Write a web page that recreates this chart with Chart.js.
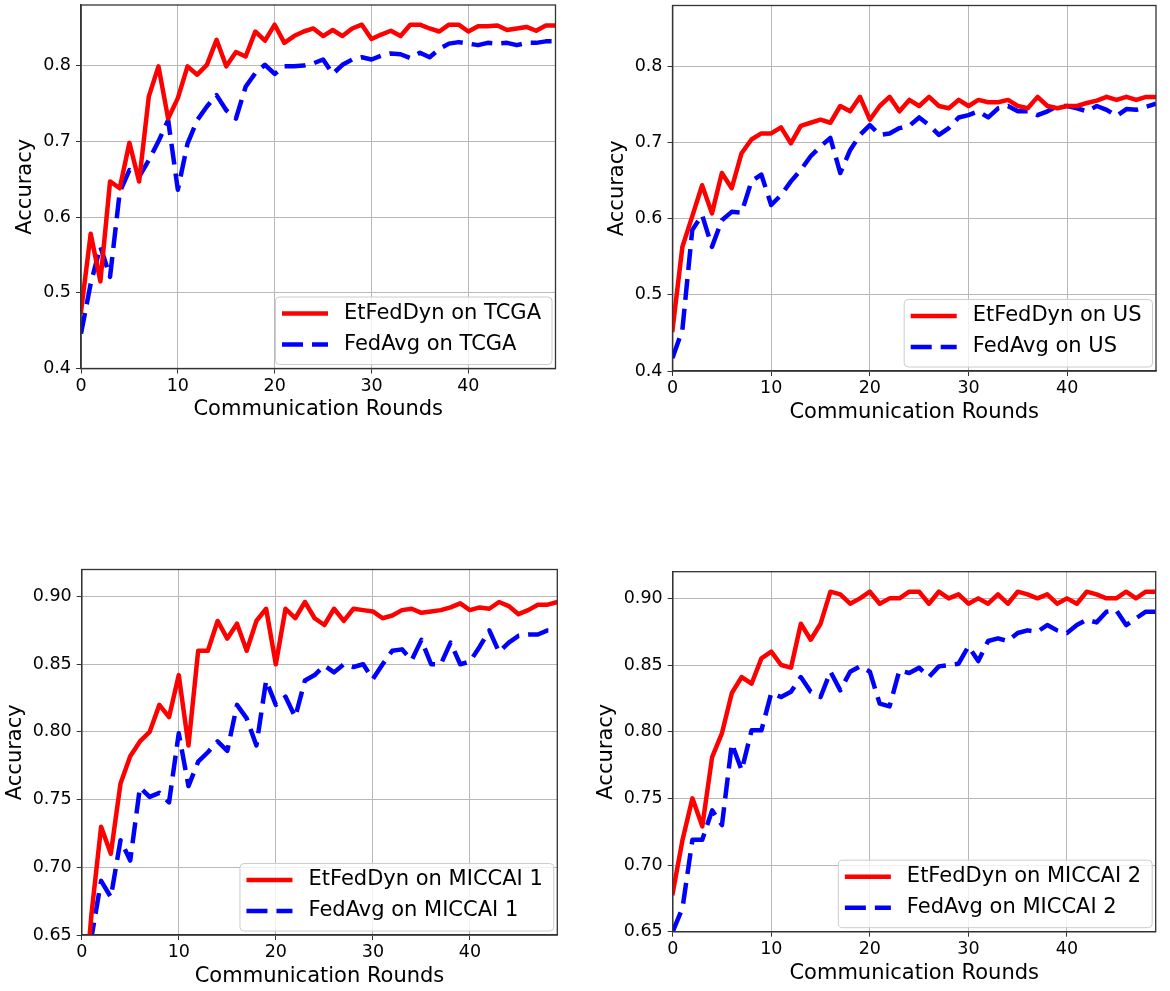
<!DOCTYPE html>
<html>
<head>
<meta charset="utf-8">
<script src="https://cdn.jsdelivr.net/npm/chart.js@4.4.1/dist/chart.umd.min.js"></script>
<style>
  html, body { margin: 0; padding: 0; background: #fff; }
  body { width: 1170px; height: 991px; position: relative; overflow: hidden; }
  .cell { position: absolute; }
  .cell canvas { display: block; }
</style>
</head>
<body>
<div class="cell" id="c1"><canvas id="k1"></canvas></div>
<div class="cell" id="c2"><canvas id="k2"></canvas></div>
<div class="cell" id="c3"><canvas id="k3"></canvas></div>
<div class="cell" id="c4"><canvas id="k4"></canvas></div>
<script>
// ---------------- data ----------------
const rounds = [0,1,2,3,4,5,6,7,8,9,10,11,12,13,14,15,16,17,18,19,20,21,22,23,24,25,26,27,28,29,30,31,32,33,34,35,36,37,38,39,40,41,42,43,44,45,46,47,48,49];

const tcgaEt  = [0.475,0.578,0.515,0.647,0.638,0.698,0.647,0.759,0.799,0.730,0.757,0.799,0.788,0.801,0.834,0.799,0.818,0.812,0.845,0.833,0.854,0.830,0.839,0.845,0.849,0.839,0.847,0.839,0.849,0.854,0.835,0.841,0.846,0.839,0.854,0.854,0.849,0.845,0.854,0.854,0.845,0.852,0.852,0.853,0.847,0.849,0.851,0.846,0.853,0.853];
const tcgaAvg = [0.446,0.512,0.561,0.521,0.633,0.662,0.653,0.675,0.700,0.728,0.636,0.697,0.728,0.746,0.761,0.741,0.730,0.772,0.790,0.801,0.789,0.799,0.799,0.800,0.803,0.808,0.789,0.801,0.808,0.811,0.808,0.813,0.816,0.815,0.810,0.817,0.811,0.822,0.829,0.831,0.829,0.827,0.830,0.829,0.830,0.827,0.830,0.830,0.832,0.832];

const usEt  = [0.454,0.563,0.603,0.644,0.607,0.660,0.640,0.686,0.704,0.712,0.712,0.720,0.699,0.722,0.726,0.730,0.726,0.748,0.741,0.760,0.730,0.748,0.760,0.741,0.756,0.748,0.760,0.748,0.745,0.756,0.748,0.756,0.753,0.753,0.756,0.748,0.745,0.760,0.748,0.745,0.748,0.748,0.752,0.755,0.760,0.756,0.760,0.756,0.760,0.760];
const usAvg = [0.417,0.454,0.585,0.605,0.563,0.598,0.609,0.608,0.649,0.658,0.618,0.631,0.649,0.664,0.682,0.695,0.706,0.660,0.690,0.710,0.723,0.710,0.712,0.719,0.722,0.733,0.723,0.710,0.719,0.733,0.736,0.741,0.733,0.745,0.748,0.741,0.741,0.736,0.741,0.748,0.748,0.745,0.741,0.748,0.743,0.735,0.744,0.743,0.747,0.751];

const m1Et  = [0.580,0.665,0.730,0.710,0.762,0.782,0.793,0.800,0.820,0.811,0.842,0.790,0.860,0.860,0.882,0.869,0.880,0.860,0.882,0.891,0.850,0.891,0.884,0.896,0.884,0.879,0.891,0.882,0.891,0.890,0.889,0.884,0.886,0.890,0.891,0.888,0.889,0.890,0.892,0.895,0.890,0.892,0.891,0.896,0.893,0.887,0.890,0.894,0.894,0.896];
const m1Avg = [0.600,0.648,0.690,0.678,0.720,0.705,0.759,0.752,0.755,0.748,0.799,0.760,0.778,0.785,0.793,0.786,0.820,0.810,0.790,0.838,0.820,0.826,0.811,0.838,0.842,0.849,0.844,0.850,0.848,0.850,0.839,0.850,0.860,0.861,0.853,0.868,0.850,0.850,0.866,0.850,0.852,0.863,0.875,0.859,0.866,0.871,0.872,0.872,0.875,0.875];

const m2Et  = [0.679,0.719,0.750,0.729,0.781,0.799,0.829,0.841,0.836,0.855,0.860,0.850,0.848,0.881,0.869,0.881,0.905,0.903,0.896,0.900,0.905,0.896,0.900,0.900,0.905,0.905,0.896,0.905,0.900,0.903,0.896,0.900,0.896,0.903,0.896,0.905,0.903,0.900,0.903,0.896,0.900,0.896,0.905,0.903,0.900,0.900,0.905,0.900,0.905,0.905];
const m2Avg = [0.650,0.668,0.719,0.719,0.741,0.730,0.791,0.771,0.801,0.801,0.829,0.826,0.830,0.841,0.830,0.826,0.845,0.831,0.845,0.849,0.845,0.821,0.819,0.846,0.844,0.848,0.841,0.849,0.850,0.851,0.864,0.853,0.868,0.870,0.868,0.874,0.876,0.875,0.880,0.876,0.874,0.880,0.884,0.882,0.890,0.891,0.880,0.885,0.890,0.890];

const etLabels  = ["EtFedDyn on TCGA", "EtFedDyn on US", "EtFedDyn on MICCAI 1", "EtFedDyn on MICCAI 2"];
const avgLabels = ["FedAvg on TCGA", "FedAvg on US", "FedAvg on MICCAI 1", "FedAvg on MICCAI 2"];
const xTitle = "Communication Rounds";
const yTitle = "Accuracy";

// ---------------- style / layout ----------------
const FONT = "'DejaVu Sans', 'Liberation Sans', sans-serif";
Chart.defaults.font.family = FONT;
Chart.defaults.color = '#000';

const boxPlugin = {
  id: 'frameAndKey',
  afterDatasetsDraw(chart) {
    const { ctx, chartArea: a } = chart;
    ctx.save();
    // full frame
    ctx.strokeStyle = '#333';
    ctx.lineWidth = 1.3;
    ctx.strokeRect(a.left, a.top, a.right - a.left, a.bottom - a.top);
    // legend (lower right, inside axes)
    ctx.font = "21px " + FONT;
    const sets = chart.data.datasets;
    const tw = Math.max(...sets.map(d => ctx.measureText(d.label).width));
    const w = 6.5 + 46 + 16 + tw + 11, h = 67.5;
    const x0 = a.right - 3.5 - w, y0 = a.bottom - 4 - h;
    ctx.beginPath();
    if (ctx.roundRect) ctx.roundRect(x0, y0, w, h, 4); else ctx.rect(x0, y0, w, h);
    ctx.fillStyle = 'rgba(255,255,255,0.8)';
    ctx.fill();
    ctx.strokeStyle = '#cccccc';
    ctx.lineWidth = 1;
    ctx.stroke();
    sets.forEach((d, i) => {
      const cy = y0 + 16.5 + i * 31;
      ctx.beginPath();
      ctx.setLineDash(d.borderDash || []);
      ctx.strokeStyle = d.borderColor;
      ctx.lineWidth = d.borderWidth;
      ctx.lineCap = 'butt';
      ctx.moveTo(x0 + 6.5, cy);
      ctx.lineTo(x0 + 52.5, cy);
      ctx.stroke();
      ctx.setLineDash([]);
      ctx.fillStyle = '#000';
      ctx.textBaseline = 'middle';
      ctx.textAlign = 'left';
      ctx.fillText(d.label, x0 + 68.5, cy);
    });
    ctx.restore();
  }
};

function toPts(arr) { return rounds.map((r, i) => ({ x: r, y: arr[i] })); }

function makeChart(idx, box, plot, yMin, yMax, yStep, yDec, et, avg, yTitleOff) {
  const cell = document.getElementById('c' + idx);
  cell.style.left = box.x + 'px';
  cell.style.top = box.y + 'px';
  cell.style.width = box.w + 'px';
  cell.style.height = box.h + 'px';
  const titleLH = 21 * 1.2;
  const yScaleW = plot.l - box.x;
  const xScaleH = (box.y + box.h) - plot.b;
  const xTitlePadBottom = (box.y + box.h) - (plot.b + 41.5) - titleLH / 2;
  const yTitlePadTop = (plot.l - yTitleOff) - box.x - titleLH / 2;

  new Chart(document.getElementById('k' + idx), {
    type: 'line',
    data: {
      datasets: [
        { label: etLabels[idx - 1], data: toPts(et), borderColor: '#ff0000', backgroundColor: '#ff0000',
          borderWidth: 4.5, pointRadius: 0, tension: 0, fill: false, clip: 0, borderJoinStyle: 'round', borderCapStyle: 'square' },
        { label: avgLabels[idx - 1], data: toPts(avg), borderColor: '#0000ff', backgroundColor: '#0000ff',
          borderWidth: 4.5, borderDash: [21, 9], pointRadius: 0, tension: 0, fill: false, clip: 0, borderJoinStyle: 'round' }
      ]
    },
    options: {
      responsive: true,
      maintainAspectRatio: false,
      animation: false,
      events: [],
      layout: { padding: { left: 0, bottom: 0, top: plot.t - box.y, right: (box.x + box.w) - plot.r } },
      plugins: { legend: { display: false }, tooltip: { enabled: false } },
      scales: {
        x: {
          type: 'linear', min: 0, max: 49,
          ticks: { stepSize: 10, includeBounds: false, autoSkip: false, maxRotation: 0, padding: 2,
                   font: { size: 17.5 }, color: '#000' },
          grid: { color: '#b8b8b8', lineWidth: 1, tickLength: 5, tickColor: '#333', drawTicks: true },
          border: { color: '#333', width: 1.3 },
          title: { display: true, text: xTitle, font: { size: 21 }, color: '#000', padding: { top: 0, bottom: xTitlePadBottom } },
          afterFit(s) { s.height = xScaleH; s.paddingLeft = 0; s.paddingRight = 0; s.paddingTop = 0; s.paddingBottom = 0; }
        },
        y: {
          type: 'linear', min: yMin, max: yMax,
          ticks: { stepSize: yStep, includeBounds: false, autoSkip: false, padding: 5,
                   font: { size: 17.5 }, color: '#000', callback: v => Number(v).toFixed(yDec) },
          grid: { color: '#b8b8b8', lineWidth: 1, tickLength: 5, tickColor: '#333', drawTicks: true },
          border: { color: '#333', width: 1.3 },
          title: { display: true, text: yTitle, font: { size: 21 }, color: '#000', padding: { top: yTitlePadTop, bottom: 0 } },
          afterFit(s) { s.width = yScaleW; s.paddingLeft = 0; s.paddingRight = 0; s.paddingTop = 0; s.paddingBottom = 0; }
        }
      }
    },
    plugins: [boxPlugin]
  });
}

makeChart(1, { x: 0,   y: 0,   w: 585, h: 440 }, { l: 81,    t: 5,     r: 555.5,  b: 368.5 }, 0.4,  0.88, 0.1,  1, tcgaEt, tcgaAvg, 55);
makeChart(2, { x: 585, y: 0,   w: 585, h: 440 }, { l: 672.5, t: 5.5,   r: 1156,   b: 371 },   0.4,  0.88, 0.1,  1, usEt,   usAvg,   55);
makeChart(3, { x: 0,   y: 490, w: 585, h: 501 }, { l: 81.7,  t: 569.5, r: 557.3,  b: 935 },   0.65, 0.92, 0.05, 2, m1Et,   m1Avg,   66);
makeChart(4, { x: 585, y: 490, w: 585, h: 501 }, { l: 672.7, t: 571.7, r: 1155.7, b: 931.7 }, 0.65, 0.92, 0.05, 2, m2Et,   m2Avg,   66);
</script>
</body>
</html>
